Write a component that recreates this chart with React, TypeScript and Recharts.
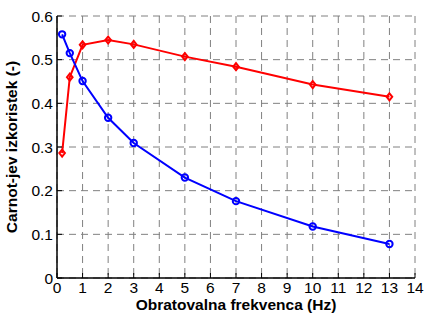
import React from 'react';
import { LineChart, Line, XAxis, YAxis, CartesianGrid } from 'recharts';

const frequencies = [0.2, 0.5, 1, 2, 3, 5, 7, 10, 13];
const redSeries = [0.286, 0.46, 0.534, 0.545, 0.535, 0.507, 0.484, 0.443, 0.415];
const blueSeries = [0.558, 0.515, 0.451, 0.367, 0.309, 0.23, 0.176, 0.118, 0.078];
const xTicks = [0, 1, 2, 3, 4, 5, 6, 7, 8, 9, 10, 11, 12, 13, 14];
const yTicks = [0, 0.1, 0.2, 0.3, 0.4, 0.5, 0.6];
const xTitle = 'Obratovalna frekvenca (Hz)';
const yTitle = 'Carnot-jev izkoristek (-)';

const data = frequencies.map((f, i) => ({ f, red: redSeries[i], blue: blueSeries[i] }));

const FONT = 'Liberation Sans, Arial, sans-serif';
const W = 425;
const H = 315;
const M = { top: 16, right: 10, left: 0, bottom: 0 };
const YW = 57;
const XH = 37;
const TICK = 5;
const GAP = 4;

const BottomTick = (props: any) => {
  const { x, y, payload } = props;
  const ay = y - GAP;
  return (
    <g>
      <line x1={x} x2={x} y1={ay} y2={ay - TICK} stroke="#000" strokeWidth={1} />
      <text x={x} y={y} dy="0.71em" textAnchor="middle" fontFamily={FONT} fontSize={15.5} fill="#000">
        {payload.value}
      </text>
    </g>
  );
};

const TopTick = (props: any) => {
  const { x, y } = props;
  const ay = y + GAP;
  return <line x1={x} x2={x} y1={ay} y2={ay + TICK} stroke="#000" strokeWidth={1} />;
};

const LeftTick = (props: any) => {
  const { x, y, payload } = props;
  const ax = x + GAP;
  return (
    <g>
      <line x1={ax} x2={ax + TICK} y1={y} y2={y} stroke="#000" strokeWidth={1} />
      <text x={x} y={y} dy="0.355em" textAnchor="end" fontFamily={FONT} fontSize={15.5} fill="#000">
        {payload.value}
      </text>
    </g>
  );
};

const RightTick = (props: any) => {
  const { x, y } = props;
  const ax = x - GAP;
  return <line x1={ax} x2={ax - TICK} y1={y} y2={y} stroke="#000" strokeWidth={1} />;
};

const Diamond = (props: any) => {
  const { cx, cy } = props;
  if (cx == null || cy == null) return null;
  const r = 3.5;
  return (
    <path
      d={`M${cx},${cy - r} L${cx + r * 0.8},${cy} L${cx},${cy + r} L${cx - r * 0.8},${cy} Z`}
      fill="none"
      stroke="#ff0000"
      strokeWidth={2}
    />
  );
};

const CircleDot = (props: any) => {
  const { cx, cy } = props;
  if (cx == null || cy == null) return null;
  return <circle cx={cx} cy={cy} r={3.2} fill="none" stroke="#0000ff" strokeWidth={2} />;
};

export default function App() {
  return (
    <div style={{ position: 'absolute', left: 0, top: 0, width: W, height: H, background: '#fff' }}>
      <LineChart width={W} height={H} data={data} margin={M}>
        <CartesianGrid xAxisId="b" yAxisId="l" stroke="#808080" strokeDasharray="7 5" strokeWidth={1} />
        <XAxis
          xAxisId="b"
          dataKey="f"
          type="number"
          domain={[0, 14]}
          ticks={xTicks}
          interval={0}
          height={XH}
          tickSize={0}
          tickMargin={GAP}
          tickLine={false}
          axisLine={{ stroke: '#000', strokeWidth: 1.5 }}
          tick={<BottomTick />}
          label={{
            content: () => (
              <text x={236} y={310} textAnchor="middle" fontFamily={FONT} fontSize={15.5} fontWeight="bold" fill="#000">
                {xTitle}
              </text>
            ),
          }}
        />
        <XAxis
          xAxisId="t"
          orientation="top"
          dataKey="f"
          type="number"
          domain={[0, 14]}
          ticks={xTicks}
          interval={0}
          height={0}
          tickSize={0}
          tickMargin={GAP}
          tickLine={false}
          axisLine={{ stroke: '#000', strokeWidth: 1 }}
          tick={<TopTick />}
        />
        <YAxis
          yAxisId="l"
          type="number"
          domain={[0, 0.6]}
          ticks={yTicks}
          interval={0}
          width={YW}
          tickSize={0}
          tickMargin={GAP}
          tickLine={false}
          axisLine={{ stroke: '#000', strokeWidth: 1.5 }}
          tick={<LeftTick />}
          label={{
            content: () => (
              <text
                transform="rotate(-90)"
                x={-147}
                y={17}
                textAnchor="middle"
                fontFamily={FONT}
                fontSize={15.5}
                fontWeight="bold"
                fill="#000"
              >
                {yTitle}
              </text>
            ),
          }}
        />
        <YAxis
          yAxisId="r"
          orientation="right"
          type="number"
          domain={[0, 0.6]}
          ticks={yTicks}
          interval={0}
          width={0}
          tickSize={0}
          tickMargin={GAP}
          tickLine={false}
          axisLine={{ stroke: '#000', strokeWidth: 1 }}
          tick={<RightTick />}
        />
        <Line
          xAxisId="b"
          yAxisId="l"
          dataKey="red"
          stroke="#ff0000"
          strokeWidth={2}
          dot={<Diamond />}
          isAnimationActive={false}
        />
        <Line
          xAxisId="b"
          yAxisId="l"
          dataKey="blue"
          stroke="#0000ff"
          strokeWidth={2}
          dot={<CircleDot />}
          isAnimationActive={false}
        />
      </LineChart>
    </div>
  );
}
